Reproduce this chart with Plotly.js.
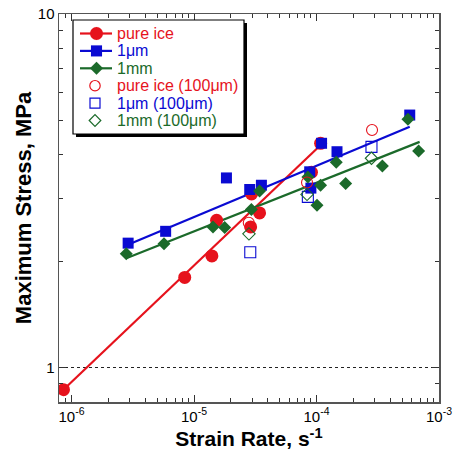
<!DOCTYPE html>
<html>
<head>
<meta charset="utf-8">
<script src="https://cdn.plot.ly/plotly-3.0.1.min.js"></script>
<style>html,body{margin:0;padding:0;background:#fff;}#chart{width:454px;height:456px;}</style>
</head>
<body>
<div id="chart"></div>
<script>
// ---- data ----
const pureX = [8.6e-7, 8.4e-6, 1.40e-5, 1.53e-5, 2.9e-5, 2.95e-5, 3.43e-5, 9.1e-5, 1.08e-4];
const pureY = [0.867, 1.80, 2.07, 2.61, 2.50, 3.10, 2.74, 3.57, 4.31];
const umX = [2.90e-6, 5.87e-6, 1.84e-5, 2.85e-5, 3.55e-5, 8.8e-5, 9.0e-5, 1.10e-4, 1.47e-4, 5.77e-4];
const umY = [2.25, 2.43, 3.44, 3.19, 3.28, 3.58, 3.22, 4.31, 4.08, 5.18];
const mmX = [2.8e-6, 5.69e-6, 1.43e-5, 1.78e-5, 2.94e-5, 3.43e-5, 8.5e-5, 1.01e-4, 1.08e-4, 1.45e-4, 1.73e-4, 3.45e-4, 5.58e-4, 6.82e-4];
const mmY = [2.10, 2.24, 2.50, 2.49, 2.80, 3.16, 3.46, 2.88, 3.28, 3.81, 3.32, 3.72, 5.04, 4.10];
const pure100X = [2.8e-5, 8.37e-5, 2.84e-4];
const pure100Y = [2.57, 3.34, 4.70];
const um100X = [2.88e-5, 8.5e-5, 2.81e-4];
const um100Y = [2.12, 3.04, 4.21];
const mm100X = [2.81e-5, 8.37e-5, 2.81e-4];
const mm100Y = [2.39, 3.09, 3.91];
// fitted power-law lines (end points)
const pureFitX = [8.5e-7, 1.02e-4];
const pureFitY = [0.864, 4.18];
const umFitX = [2.82e-6, 5.77e-4];
const umFitY = [2.22, 4.80];
const mmFitX = [2.8e-6, 6.95e-4];
const mmFitY = [2.04, 4.35];
// tick labels
const xTickVals = [1e-6, 1e-5, 1e-4, 1e-3];
const xTickText = ['10<sup>-6</sup>', '10<sup>-5</sup>', '10<sup>-4</sup>', '10<sup>-3</sup>'];
const yTickVals = [1, 10];
const yTickText = ['1', '10'];
const legendNames = ['pure ice', '1\u03bcm', '1mm', 'pure ice (100\u03bcm)', '1\u03bcm (100\u03bcm)', '1mm (100\u03bcm)'];

// ---- styles ----
const RED = '#e6121c', BLUE = '#0a0ad2', GREEN = '#1b6a2a';
const FONT = 'Arial, "Liberation Sans", Helvetica, sans-serif';

const W = 454, H = 456, ML = 59, MR = 15, MT = 14, MB = 54;
const PW = W - ML - MR, PH = H - MT - MB;
const px = v => (v - ML) / PW;
const py = v => 1 - (v - MT) / PH;

// minor ticks
const xMinor = [], yMinor = [];
[1e-7, 1e-6, 1e-5, 1e-4].forEach(d => { for (let k = 2; k <= 9; k++) xMinor.push(k * d); });
[0.1, 1].forEach(d => { for (let k = 2; k <= 9; k++) yMinor.push(k * d); });

function lineTrace(x, y, c) {
  return {x: x, y: y, mode: 'lines', type: 'scatter', line: {color: c, width: 2.2}, showlegend: false, hoverinfo: 'skip'};
}
function markTrace(x, y, sym, size, c, open) {
  return {x: x, y: y, mode: 'markers', type: 'scatter', showlegend: false,
    marker: {symbol: sym, size: size, color: c, line: {color: c, width: open ? 1.1 : 0}}};
}

const data = [
  lineTrace(pureFitX, pureFitY, RED),
  lineTrace(umFitX, umFitY, BLUE),
  lineTrace(mmFitX, mmFitY, GREEN),
  markTrace(pureX, pureY, 'circle', 13, RED, false),
  markTrace(umX, umY, 'square', 11, BLUE, false),
  markTrace(mmX, mmY, 'diamond', 10, GREEN, false),
  markTrace(pure100X, pure100Y, 'circle-open', 11, RED, true),
  markTrace(um100X, um100Y, 'square-open', 11, BLUE, true),
  markTrace(mm100X, mm100Y, 'diamond-open', 9.5, GREEN, true)
];

// ---- hand-drawn legend box (layout decoration) ----
const shapes = [];
const annotations = [];
const boxL = 73, boxT = 20, boxR = 244, boxB = 134, sh = 3;
shapes.push({type: 'rect', xref: 'paper', yref: 'paper', x0: px(boxL + sh), x1: px(boxR + sh), y0: py(boxT + sh), y1: py(boxB + sh), fillcolor: '#000', line: {width: 0}});
shapes.push({type: 'rect', xref: 'paper', yref: 'paper', x0: px(boxL), x1: px(boxR), y0: py(boxT), y1: py(boxB), fillcolor: '#fff', line: {color: '#000', width: 1.2}});
const colors = [RED, BLUE, GREEN, RED, BLUE, GREEN];
for (let i = 0; i < 6; i++) {
  const cy = 33.5 + i * 17.4;
  const cx = i < 3 ? 96.5 : 95;
  const c = colors[i];
  const open = i >= 3;
  if (!open) shapes.push({type: 'line', xref: 'paper', yref: 'paper', x0: px(80), x1: px(112), y0: py(cy), y1: py(cy), line: {color: c, width: 2.2}});
  const kind = i % 3;
  const fill = open ? '#ffffff' : c;
  const lw = open ? 1.2 : 0.1;
  if (kind === 0) {
    const r = open ? 5.2 : 6.5;
    shapes.push({type: 'circle', xref: 'paper', yref: 'paper', x0: px(cx - r), x1: px(cx + r), y0: py(cy - r), y1: py(cy + r), fillcolor: fill, line: {color: c, width: lw}});
  } else if (kind === 1) {
    const r = open ? 5 : 5.5;
    shapes.push({type: 'rect', xref: 'paper', yref: 'paper', x0: px(cx - r), x1: px(cx + r), y0: py(cy - r), y1: py(cy + r), fillcolor: fill, line: {color: c, width: lw}});
  } else {
    const r = open ? 5.8 : 6.5;
    const p = 'M' + px(cx - r) + ',' + py(cy) + ' L' + px(cx) + ',' + py(cy - r) + ' L' + px(cx + r) + ',' + py(cy) + ' L' + px(cx) + ',' + py(cy + r) + ' Z';
    shapes.push({type: 'path', xref: 'paper', yref: 'paper', path: p, fillcolor: fill, line: {color: c, width: lw}});
  }
  annotations.push({xref: 'paper', yref: 'paper', x: px(115), y: py(cy), xanchor: 'left', yanchor: 'middle', showarrow: false,
    text: legendNames[i], font: {family: FONT, size: 16, color: c}});
}

const axisCommon = {
  type: 'log', showline: true, linecolor: '#555', linewidth: 1.5, mirror: 'allticks',
  ticks: 'inside', ticklen: 7, tickwidth: 1, tickcolor: '#333',
  tickfont: {family: FONT, size: 15, color: '#000'}, zeroline: false
};

const layout = {
  width: W, height: H, margin: {l: ML, r: MR, t: MT, b: MB},
  paper_bgcolor: '#fff', plot_bgcolor: '#fff', showlegend: false,
  font: {family: FONT},
  xaxis: Object.assign({}, axisCommon, {
    range: [-6.102, -3], tickmode: 'array', tickvals: xTickVals, ticktext: xTickText, showgrid: false,
    minor: {tickmode: 'array', tickvals: xMinor, ticks: 'inside', ticklen: 4, tickcolor: '#333', showgrid: false},
    title: {text: 'Strain Rate, s<sup>-1</sup>', font: {family: FONT, size: 21, weight: 'bold', color: '#000'}, standoff: 8}
  }),
  yaxis: Object.assign({}, axisCommon, {
    range: [Math.log10(0.8), 1], tickmode: 'array', tickvals: yTickVals, ticktext: yTickText,
    showgrid: true, gridcolor: '#222', griddash: 'dot', gridwidth: 1,
    minor: {tickmode: 'array', tickvals: yMinor, ticks: 'inside', ticklen: 4, tickcolor: '#333', showgrid: false},
    title: {text: 'Maximum Stress, MPa', font: {family: FONT, size: 22, weight: 'bold', color: '#000'}, standoff: 0}
  }),
  shapes: shapes,
  annotations: annotations
};

Plotly.newPlot('chart', data, layout, {staticPlot: true, displayModeBar: false});
</script>
</body>
</html>
